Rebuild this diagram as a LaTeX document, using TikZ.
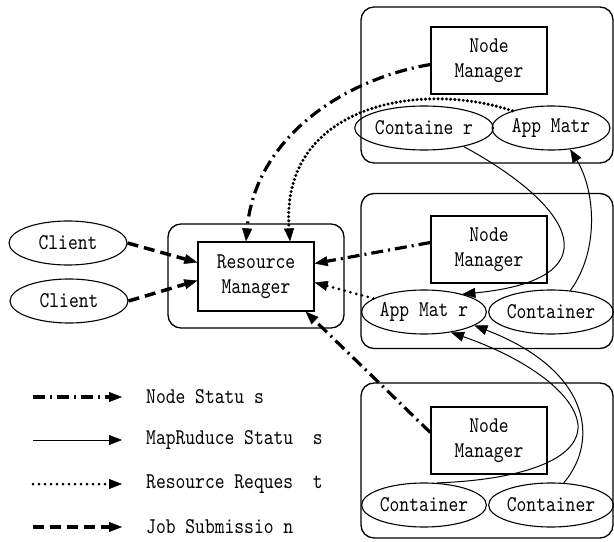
\documentclass[tikz,border=0pt]{standalone}
\usepackage{fontspec}
\usetikzlibrary{shapes.geometric,arrows.meta}
\newfontfamily\lblfont{lmmono10-regular.otf}[FakeStretch=0.83]
\tikzset{
  lbl/.style={font=\lblfont\fontsize{22.5bp}{25bp}\selectfont},
  host/.style={draw, line width=1.3bp, rounded corners=13bp, inner sep=0},
  mgr/.style={draw, line width=1.3bp, minimum width=116bp, minimum height=67bp,
              inner sep=0, align=center, lbl},
  proc/.style={draw, ellipse, line width=1.1bp, minimum width=118bp,
               minimum height=44bp, inner sep=0, lbl},
  tip/.tip={Triangle[length=13bp,width=10bp,line width=0.4bp]},
  nodestat/.style={line width=3.2bp, dash pattern=on 12bp off 5bp on 2bp off 5bp, -tip},
  mrstat/.style={line width=1bp, -tip},
  resreq/.style={line width=3bp, line cap=round, dash pattern=on 0bp off 6bp, -tip},
  resreqdense/.style={line width=3.4bp, line cap=round, dash pattern=on 0bp off 4.2bp, -tip},
  jobsub/.style={line width=3.5bp, dash pattern=on 11bp off 6bp, -tip},
}
\begin{document}
\begin{tikzpicture}[x=1bp, y=-1bp]
  \useasboundingbox (0,0) rectangle (614,542);

  % three worker hosts
  \node[host, minimum width=252bp, minimum height=156bp] (h1) at (487,85) {};
  \node[host, minimum width=252bp, minimum height=155bp] (h2) at (487,271) {};
  \node[host, minimum width=252bp, minimum height=155bp] (h3) at (487,460.5) {};

  \node[mgr] (nm1) at (489,60.5) {Node\\Manager};
  \node[mgr] (nm2) at (489,249.5) {Node\\Manager};
  \node[mgr] (nm3) at (489,440.5) {Node\\Manager};

  \node[proc] (ct1) at (424,128) {Containe r};
  \node[proc] (am1) at (551,128) {App Matr};
  \node[proc] (am2) at (424,312) {App Mat r};
  \node[proc] (ct2) at (551,312) {Container};
  \node[proc] (ct3) at (424,505) {Container};
  \node[proc] (ct4) at (551,505) {Container};

  % resource manager
  \node[host, minimum width=176bp, minimum height=104bp] (rmh) at (256,276) {};
  \node[mgr, minimum height=69bp] (rm) at (256,276.5) {Resource\\Manager};

  % clients
  \node[proc] (c1) at (68,243) {Client};
  \node[proc] (c2) at (69,301) {Client};

  % job submission
  \draw[jobsub] (c1.east) -- ([yshift=14bp]rm.west);
  \draw[jobsub] (c2.east) -- ([yshift=-4bp]rm.west);

  % node status
  \draw[nodestat] ([yshift=-4bp]nm1.west) .. controls (340,80) and (255,140) .. ([xshift=-10bp]rm.north);
  \draw[nodestat] ([yshift=7bp]nm2.west) -- ([yshift=13bp]rm.east);
  \draw[nodestat] ([yshift=8bp]nm3.west) -- ([xshift=-9bp]rm.south east);

  % resource requests
  \draw[resreqdense] (am1.156) .. controls (420,80) and (280,105) .. ([xshift=34bp]rm.north);
  \draw[resreq] (am2.165) -- ([yshift=-6bp]rm.east);

  % mapreduce status
  \draw[mrstat] (ct1.-25) .. controls (580,210) and (610,280) .. (am2.25);
  \draw[mrstat] (ct2.48) .. controls (600,250) and (595,190) .. (am1.-48);
  \draw[mrstat] (ct3.60) .. controls (520,480) and (580,460) .. (578,425)
                          .. controls (575,395) and (530,360) .. (am2.-37);
  \draw[mrstat] (ct4.60) .. controls (600,440) and (590,370) .. (am2.-15);

  % legend
  \coordinate (k1a) at (33,397);  \coordinate (k1b) at (122,397);
  \coordinate (k2a) at (33,440);  \coordinate (k2b) at (122,440);
  \coordinate (k3a) at (33,484);  \coordinate (k3b) at (122,484);
  \coordinate (k4a) at (33,527);  \coordinate (k4b) at (122,527);
  \draw[nodestat] (k1a) -- (k1b);
  \draw[mrstat] (k2a) -- (k2b);
  \draw[resreq] (k3a) -- (k3b);
  \draw[jobsub] (k4a) -- (k4b);
  \node[lbl, anchor=west, inner sep=0] (t1) at (146,397) {Node Statu s};
  \node[lbl, anchor=west, inner sep=0] (t2) at (146,440) {MapRuduce Statu\ \ s};
  \node[lbl, anchor=west, inner sep=0] (t3) at (146,484) {Resource Reques\ \ t};
  \node[lbl, anchor=west, inner sep=0] (t4) at (146,527) {Job Submissio n};
\end{tikzpicture}
\end{document}
